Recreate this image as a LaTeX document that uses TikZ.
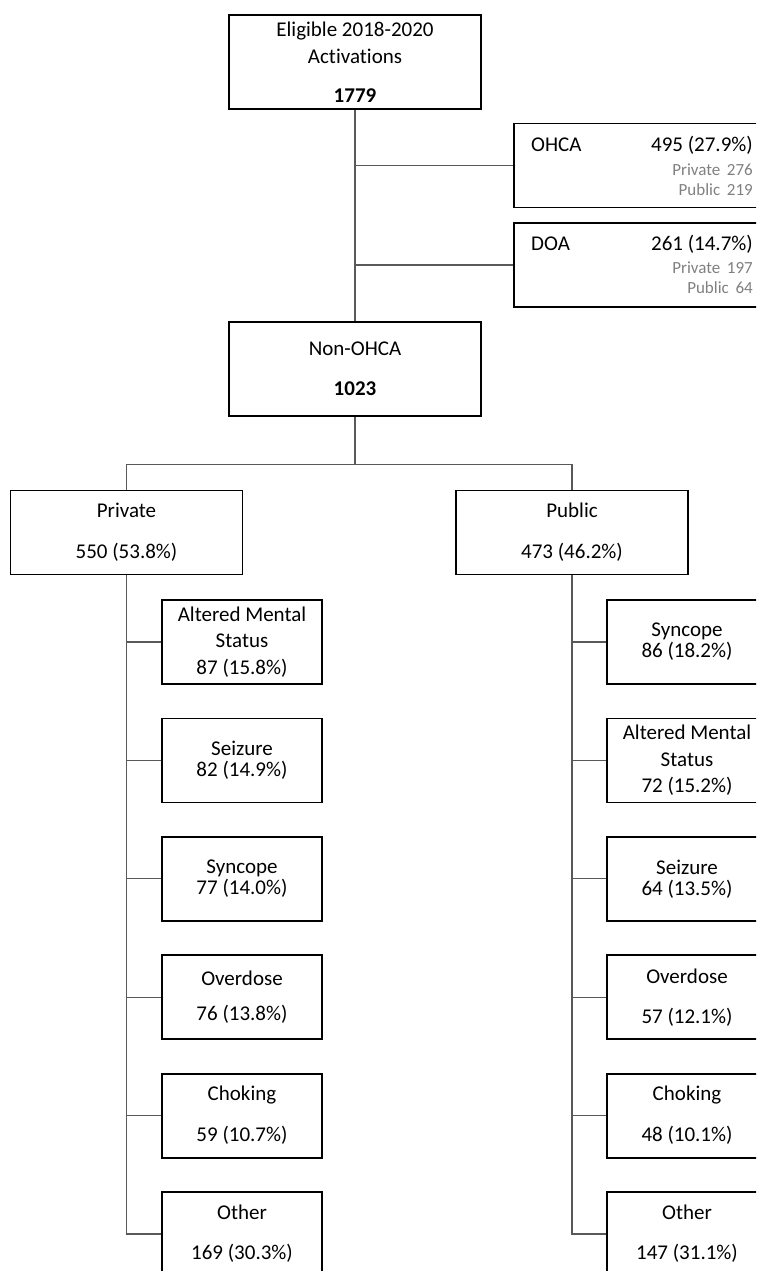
\documentclass[tikz,border=0pt]{standalone}
\usepackage{fontspec}
\setmainfont{Carlito}[Ligatures=NoCommon]
\usetikzlibrary{positioning}

\begin{document}
\begin{tikzpicture}[x=1pt,y=-1pt]
	\tikzset{box/.style={draw,line width=1.8pt,inner sep=0pt,align=center,font=\fontsize{21}{25}\selectfont},
		bigbox/.style={box,minimum width=252pt,minimum height=94pt},
		midbox/.style={box,minimum width=232pt,minimum height=84pt},
		sidebox/.style={box,minimum width=252pt,minimum height=84pt},
		subbox/.style={box,minimum width=160pt,minimum height=84pt},
		txt/.style={inner sep=0pt,font=\fontsize{21}{25}\selectfont},
		grey/.style={inner sep=0pt,text=black!50,font=\fontsize{17}{19}\selectfont},
		link/.style={draw=black!65,line width=1.2pt}}
	\useasboundingbox (0,0) rectangle (756,1271);
	\clip (0,0) rectangle (756,1271);

	%% top of the tree
	\node[bigbox] (elig) at (355,62) {Eligible 2018-2020\\[1.7pt]Activations\\[14pt]\textbf{1779}};
	\node[bigbox] (nonohca) at (355,369) {Non-OHCA\\[15pt]\textbf{1023}};
	\node[sidebox] (ohca) at (640,165.5) {};
	\node[sidebox] (doa) at (640,265) {};
	\node[txt,anchor=base west] (ohcalab) at (531,151.7) {OHCA};
	\node[txt,anchor=base east] (ohcanum) at (753,151.7) {495 (27.9\%)};
	\node[grey,anchor=base east] (ohcapriv) at (753,175.7) {Private\ \,276};
	\node[grey,anchor=base east] (ohcapubl) at (753,195) {Public\ \,219};
	\node[txt,anchor=base west] (doalab) at (531,250) {DOA};
	\node[txt,anchor=base east] (doanum) at (753,250) {261 (14.7\%)};
	\node[grey,anchor=base east] (doapriv) at (753,273.3) {Private\ \,197};
	\node[grey,anchor=base east] (doapubl) at (753,293.3) {Public\ \,64};

	%% private / public
	\node[midbox] (priv) at (126.5,532.5) {Private\\[16pt]550 (53.8\%)};
	\node[midbox] (publ) at (572,532.5) {Public\\[16pt]473 (46.2\%)};

	\node[subbox] (pv1) at (242,642) {Altered Mental\\[1.7pt]Status\\[1.7pt]87 (15.8\%)};
	\node[subbox] (pv2) at (242,760.4) {Seizure\\[-4pt]82 (14.9\%)};
	\node[subbox] (pv3) at (242,878.8) {Syncope\\[-4pt]77 (14.0\%)};
	\node[subbox] (pv4) at (242,997.2) {Overdose\\[10pt]76 (13.8\%)};
	\node[subbox] (pv5) at (242,1115.6) {Choking\\[16pt]59 (10.7\%)};
	\node[subbox] (pv6) at (242,1234) {Other\\[15pt]169 (30.3\%)};

	\node[subbox] (pb1) at (687,642) {Syncope\\[-4pt]86 (18.2\%)};
	\node[subbox] (pb2) at (687,760.4) {Altered Mental\\[1.7pt]Status\\[1.7pt]72 (15.2\%)};
	\node[subbox] (pb3) at (687,878.8) {Seizure\\[-4pt]64 (13.5\%)};
	\node[subbox] (pb4) at (687,997.2) {Overdose\\[15pt]57 (12.1\%)};
	\node[subbox] (pb5) at (687,1115.6) {Choking\\[16pt]48 (10.1\%)};
	\node[subbox] (pb6) at (687,1234) {Other\\[15pt]147 (31.1\%)};

	%% connectors
	\coordinate (split) at (355,464.3);
	\path[link] (elig.south) edge (nonohca.north)
		(elig.south |- ohca.west) edge (ohca.west)
		(elig.south |- doa.west) edge (doa.west)
		(nonohca.south) edge (split);
	\draw[link] (priv.north) |- (split) -| (publ.north);
	\draw[link] (priv.south) |- (pv6.west);
	\draw[link] (publ.south) |- (pb6.west);
	\foreach \k in {1,...,5}{
		\draw[link] (priv.south |- pv\k.west) -- (pv\k.west);
		\draw[link] (publ.south |- pb\k.west) -- (pb\k.west);
	}
\end{tikzpicture}
\end{document}
